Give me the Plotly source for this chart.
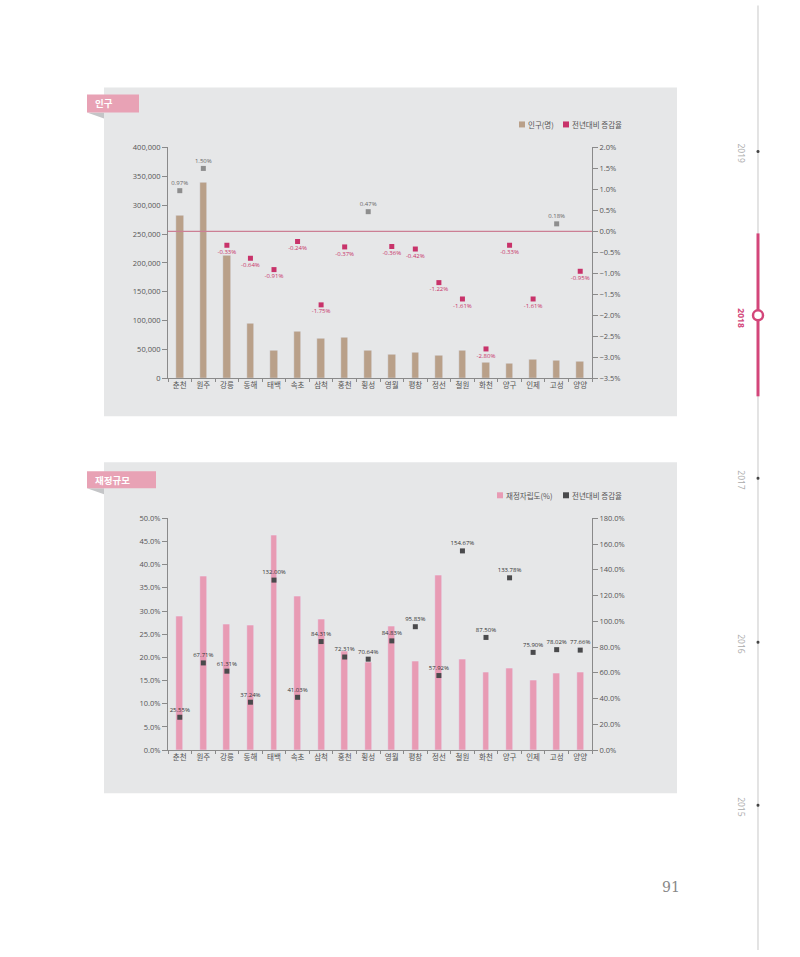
import plotly.graph_objects as go

# ---------------- data ----------------
regions = ["춘천", "원주", "강릉", "동해", "태백", "속초", "삼척", "홍천", "횡성",
           "영월", "평창", "정선", "철원", "화천", "양구", "인제", "고성", "양양"]
population = [283000, 340000, 213000, 94500, 48000, 82000, 69500, 71000, 48000,
              41500, 45000, 39500, 48000, 28000, 25700, 33000, 31000, 28700]
pop_change = [0.97, 1.50, -0.33, -0.64, -0.91, -0.24, -1.75, -0.37, 0.47,
              -0.36, -0.42, -1.22, -1.61, -2.80, -0.33, -1.61, 0.18, -0.95]
fin_indep = [28.8, 37.4, 27.2, 27.0, 46.3, 33.2, 28.3, 21.3, 19.0,
             26.8, 19.2, 37.8, 19.5, 16.9, 17.7, 15.1, 16.6, 16.9]
fin_change = [25.55, 67.71, 61.31, 37.24, 132.00, 41.03, 84.31, 72.31, 70.64,
              84.83, 95.83, 57.92, 154.67, 87.50, 133.78, 75.90, 78.02, 77.66]
years = ["2019", "2018", "2017", "2016", "2015"]

# ---------------- style ----------------
W, H = 800, 957
FONT = "Open Sans, Noto Sans CJK KR, sans-serif"
KFONT = "Noto Sans CJK KR, sans-serif"
PANEL = "#e6e7e8"
TAN = "#b9a089"
PINK = "#e89bb4"
CRIMSON = "#c8336a"
GRAYMK = "#8e8e8e"
DARKMK = "#4a4a4c"
AXIS = "#8a8a8a"
TICKC = "#555555"
TAG = "#e8a2b5"
ACCENT = "#d3467a"

# vertical calibration of the photographed page
YA, YB = 4.5, 0.99

def px(x):
    return x / W

def py(y):
    return 1 - ((y - YA) / YB) / H

fig = go.Figure()

# ---------- top chart: population ----------
fig.add_trace(go.Bar(x=regions, y=population, marker_color=TAN, width=0.32,
                     xaxis="x", yaxis="y", showlegend=False))
pos_idx = [i for i, v in enumerate(pop_change) if v >= 0]
neg_idx = [i for i, v in enumerate(pop_change) if v < 0]
fig.add_trace(go.Scatter(
    x=[regions[i] for i in pos_idx], y=[pop_change[i] for i in pos_idx],
    mode="markers+text", marker=dict(symbol="square", size=5, color=GRAYMK),
    text=[f"{pop_change[i]:.2f}%" for i in pos_idx], textposition="top center",
    textfont=dict(size=6, color="#666666", family=FONT),
    xaxis="x", yaxis="y2", showlegend=False, cliponaxis=False))
fig.add_trace(go.Scatter(
    x=[regions[i] for i in neg_idx], y=[pop_change[i] for i in neg_idx],
    mode="markers+text", marker=dict(symbol="square", size=5, color=CRIMSON),
    text=[f"{pop_change[i]:.2f}%" for i in neg_idx], textposition="bottom center",
    textfont=dict(size=6, color=CRIMSON, family=FONT),
    xaxis="x", yaxis="y2", showlegend=False, cliponaxis=False))

# ---------- bottom chart: finance ----------
fig.add_trace(go.Bar(x=regions, y=fin_indep, marker_color=PINK, width=0.29,
                     xaxis="x2", yaxis="y3", showlegend=False))
fig.add_trace(go.Scatter(
    x=regions, y=fin_change, mode="markers+text",
    marker=dict(symbol="square", size=5, color=DARKMK),
    text=[f"{v:.2f}%" for v in fin_change], textposition="top center",
    textfont=dict(size=6, color="#333333", family=FONT),
    xaxis="x2", yaxis="y4", showlegend=False, cliponaxis=False))

xdom = [px(168), px(592)]
top_dom = [py(378), py(147)]
bot_dom = [py(750), py(518)]

common_x = dict(type="category", tickson="boundaries", ticks="outside", ticklen=3,
                tickcolor=AXIS, showline=True, linecolor=AXIS, linewidth=1,
                showgrid=False, zeroline=False, range=[-0.5, 17.5],
                tickfont=dict(size=7.5, color=TICKC, family=KFONT), fixedrange=True)
common_y = dict(showline=True, linecolor=AXIS, linewidth=1, ticks="outside", ticklen=5,
                tickcolor=AXIS, showgrid=False, zeroline=False,
                tickfont=dict(size=7.5, color=TICKC, family=FONT), fixedrange=True)

fig.update_layout(
    width=W, height=H, margin=dict(l=0, r=0, t=0, b=0),
    paper_bgcolor="white", plot_bgcolor=PANEL, showlegend=False,
    bargap=0,
    xaxis=dict(domain=xdom, anchor="y", **common_x),
    yaxis=dict(domain=top_dom, anchor="x", range=[0, 400000], dtick=50000,
               tickformat=",", **common_y),
    yaxis2=dict(overlaying="y", side="right", anchor="x", range=[-3.5, 2.0], dtick=0.5,
                tickformat=".1f", ticksuffix="%", **common_y),
    xaxis2=dict(domain=xdom, anchor="y3", **common_x),
    yaxis3=dict(domain=bot_dom, anchor="x2", range=[0, 50], dtick=5,
                tickformat=".1f", ticksuffix="%", **common_y),
    yaxis4=dict(overlaying="y3", side="right", anchor="x2", range=[0, 180], dtick=20,
                tickformat=".1f", ticksuffix="%", **common_y),
)

shapes = []
annots = []

def panel(y0, y1, tag_text, tag_x1, tag_y0, tag_y1):
    shapes.append(dict(type="rect", xref="paper", yref="paper", layer="below",
                       x0=px(104), x1=px(677), y0=py(y1), y1=py(y0),
                       fillcolor=PANEL, line=dict(width=0)))
    # fold shadow
    shapes.append(dict(type="path", xref="paper", yref="paper", layer="below",
                       path=f"M {px(87)} {py(tag_y1)} L {px(104)} {py(tag_y1)} L {px(104)} {py(tag_y1 + 6)} Z",
                       fillcolor="#c4c5c7", line=dict(width=0)))
    shapes.append(dict(type="rect", xref="paper", yref="paper",
                       x0=px(87), x1=px(tag_x1), y0=py(tag_y1), y1=py(tag_y0),
                       fillcolor=TAG, line=dict(width=0)))
    annots.append(dict(xref="paper", yref="paper", x=px(93), y=py((tag_y0 + tag_y1) / 2),
                       text=f"<b>{tag_text}</b>", showarrow=False, xanchor="left",
                       yanchor="middle", font=dict(size=9.5, color="white", family=KFONT)))

panel(87, 416, "인구", 139, 94, 112)
panel(462, 793, "재정규모", 156, 471, 488)

# zero reference line (top chart)
shapes.append(dict(type="line", xref="x domain", yref="y2", x0=0, x1=1, y0=0, y1=0,
                   line=dict(color="#cc7f94", width=1.3)))

def legend_item(x, y, color, label):
    shapes.append(dict(type="rect", xref="paper", yref="paper",
                       x0=px(x), x1=px(x + 6), y0=py(y + 3), y1=py(y - 3),
                       fillcolor=color, line=dict(width=0)))
    annots.append(dict(xref="paper", yref="paper", x=px(x + 7), y=py(y), text=label,
                       showarrow=False, xanchor="left", yanchor="middle",
                       font=dict(size=7.5, color="#555555", family=KFONT)))

legend_item(519, 124, TAN, "인구(명)")
legend_item(563, 124, CRIMSON, "전년대비 증감율")
legend_item(497, 495, PINK, "재정자립도(%)")
legend_item(563, 495, DARKMK, "전년대비 증감율")

# ---------- sidebar timeline ----------
shapes.append(dict(type="line", xref="paper", yref="paper", x0=px(758), x1=px(758),
                   y0=py(5), y1=py(950), line=dict(color="#d5d5d5", width=1.3)))
shapes.append(dict(type="line", xref="paper", yref="paper", x0=px(758), x1=px(758),
                   y0=py(233), y1=py(396), line=dict(color=ACCENT, width=3)))
year_y = [151, 315, 478, 642, 805]
for yr, yy in zip(years, year_y):
    if yr == "2018":
        shapes.append(dict(type="circle", xref="paper", yref="paper",
                           x0=px(753), x1=px(763), y0=py(yy + 5), y1=py(yy - 5),
                           fillcolor="white", line=dict(color=ACCENT, width=2.5)))
        annots.append(dict(xref="paper", yref="paper", x=px(742), y=py(yy + 3),
                           xanchor="center", yanchor="middle",
                           text=f"<b>{yr}</b>", showarrow=False, textangle=90,
                           font=dict(size=8.5, color=ACCENT, family=FONT)))
    else:
        shapes.append(dict(type="circle", xref="paper", yref="paper",
                           x0=px(756.5), x1=px(759.5), y0=py(yy + 1.5), y1=py(yy - 1.5),
                           fillcolor="#444444", line=dict(width=0)))
        annots.append(dict(xref="paper", yref="paper", x=px(742), y=py(yy + 2),
                           xanchor="center", yanchor="middle",
                           text=yr, showarrow=False, textangle=90,
                           font=dict(size=8.5, color="#aaaaaa", family=FONT)))

# page number
annots.append(dict(xref="paper", yref="paper", x=px(671), y=py(887), text="91",
                   xanchor="center", yanchor="middle", showarrow=False,
                   font=dict(size=14, color="#888888",
                             family="DejaVu Serif, Liberation Serif, serif")))

fig.update_layout(shapes=shapes, annotations=annots)
fig.write_html("out.html")
